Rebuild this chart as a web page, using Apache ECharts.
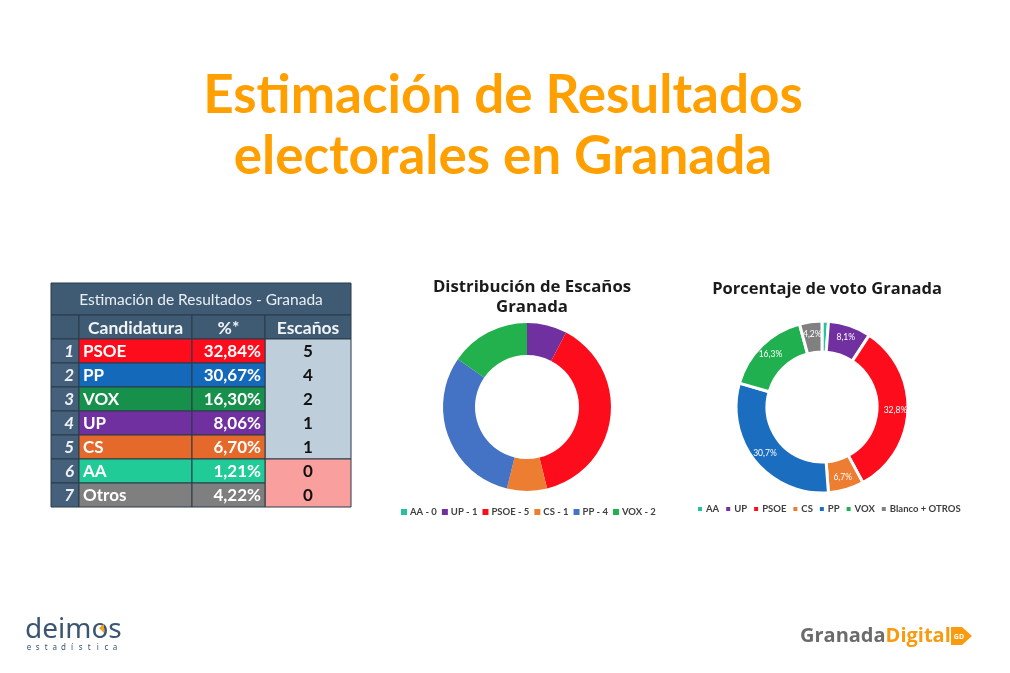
<!DOCTYPE html>
<html>
<head>
<meta charset="utf-8">
<script src="https://cdn.jsdelivr.net/npm/echarts@6/dist/echarts.min.js"></script>
<style>
html,body{margin:0;padding:0;background:#fff;}
#main{width:1010px;height:673px;}
</style>
</head>
<body>
<div id="main"></div>
<script>
// ---------- DATA ----------
const mainTitle = ['Estimación de Resultados', 'electorales en Granada'];
const tableTitle = 'Estimación de Resultados - Granada';
const tableHeaders = ['Candidatura', '%*', 'Escaños'];
const candidates = ['PSOE', 'PP', 'VOX', 'UP', 'CS', 'AA', 'Otros'];
const votePct = [32.84, 30.67, 16.30, 8.06, 6.70, 1.21, 4.22];
const seats = [5, 4, 2, 1, 1, 0, 0];

const seatTitle = 'Distribución de Escaños\nGranada';
const seatNames = ['AA', 'UP', 'PSOE', 'CS', 'PP', 'VOX'];
const seatValues = [0, 1, 5, 1, 4, 2];

const voteTitle = 'Porcentaje de voto Granada';
const voteNames = ['AA', 'UP', 'PSOE', 'CS', 'PP', 'VOX', 'Blanco + OTROS'];
const voteValues = [1.21, 8.06, 32.84, 6.70, 30.67, 16.30, 4.22];

const logoLeft = 'deimos';
const logoLeftSub = 'estadística';
const logoRight = ['Granada', 'Digital', 'GD'];

// ---------- STYLE ----------
const tableColors = {PSOE:'#fd0d1c', PP:'#1469bb', VOX:'#17904b', UP:'#7030a0', CS:'#e5692a', AA:'#20cb97', Otros:'#7f7f7f'};
const seatColors = {AA:'#22c49b', UP:'#7030a0', PSOE:'#fd0d1c', CS:'#ed7d31', PP:'#4472c4', VOX:'#22b14c'};
const voteColors = {AA:'#22c49b', UP:'#7030a0', PSOE:'#fd0d1c', CS:'#ed7d31', PP:'#1a6dbf', VOX:'#21b04f', 'Blanco + OTROS':'#808080'};

const fmt = (v, d) => v.toFixed(d).replace('.', ',') + '%';

const chart = echarts.init(document.getElementById('main'), null, {renderer: 'canvas'});

// ---------- TABLE (graphic) ----------
const colX = [51, 79, 192, 265, 351];
const titleTop = 283, headTop = 315, rowTop = 339, rowH = 24;
const dark = '#3f5b74', line = '#2b3a48';
const FONT = 'Lato';
const tableEls = [];
tableEls.push({type:'rect', shape:{x:colX[0], y:titleTop, width:colX[4]-colX[0], height:headTop-titleTop}, style:{fill:dark, stroke:line, lineWidth:1}});
tableEls.push({type:'text', x:(colX[0]+colX[4])/2, y:(titleTop+headTop)/2+1, style:{text:tableTitle, fill:'#e9eff4', font:'normal 15.5px '+FONT, align:'center', verticalAlign:'middle'}});
for (let c = 0; c < 4; c++) {
  tableEls.push({type:'rect', shape:{x:colX[c], y:headTop, width:colX[c+1]-colX[c], height:rowH}, style:{fill:dark, stroke:line, lineWidth:1}});
  if (c > 0) tableEls.push({type:'text', x:(colX[c]+colX[c+1])/2, y:headTop+rowH/2+1, style:{text:tableHeaders[c-1], fill:'#f2f5f8', font:'bold 17.5px '+FONT, align:'center', verticalAlign:'middle'}});
}
// seats blocks
const nWin = seats.filter(s => s > 0).length;
tableEls.push({type:'rect', shape:{x:colX[3], y:rowTop, width:colX[4]-colX[3], height:rowH*nWin}, style:{fill:'#bfcedb', stroke:line, lineWidth:1}});
tableEls.push({type:'rect', shape:{x:colX[3], y:rowTop+rowH*nWin, width:colX[4]-colX[3], height:rowH*(seats.length-nWin)}, style:{fill:'#f9a09e', stroke:line, lineWidth:1}});
candidates.forEach((name, i) => {
  const y = rowTop + i*rowH, col = tableColors[name];
  tableEls.push({type:'rect', shape:{x:colX[0], y, width:colX[1]-colX[0], height:rowH}, style:{fill:'#44607a', stroke:line, lineWidth:1}});
  tableEls.push({type:'rect', shape:{x:colX[1], y, width:colX[2]-colX[1], height:rowH}, style:{fill:col, stroke:line, lineWidth:1}});
  tableEls.push({type:'rect', shape:{x:colX[2], y, width:colX[3]-colX[2], height:rowH}, style:{fill:col, stroke:line, lineWidth:1}});
  tableEls.push({type:'text', x:colX[1]-5, y:y+rowH/2+1, style:{text:String(i+1), fill:'#eef2f6', font:'italic bold 17px '+FONT, align:'right', verticalAlign:'middle'}});
  tableEls.push({type:'text', x:colX[1]+4, y:y+rowH/2+1, style:{text:name, fill:'#ffffff', font:'bold 17px '+FONT, align:'left', verticalAlign:'middle'}});
  tableEls.push({type:'text', x:colX[3]-4, y:y+rowH/2+1, style:{text:fmt(votePct[i], 2), fill:'#ffffff', font:'bold 17px '+FONT, align:'right', verticalAlign:'middle'}});
  tableEls.push({type:'text', x:(colX[3]+colX[4])/2, y:y+rowH/2+1, style:{text:String(seats[i]), fill:'#111111', font:'bold 17px '+FONT, align:'center', verticalAlign:'middle'}});
});

// ---------- LOGOS ----------
const logoEls = [
  {type:'text', x:25, y:630, style:{text:logoLeft, fill:'#3a5670', font:'400 28px "Noto Sans"', align:'left', verticalAlign:'middle'}},
  {type:'polygon', shape:{points:[[99,628],[104,624],[104,633]]}, style:{fill:'#f5a01a'}},
  {type:'text', x:800, y:636, style:{text:'{g|' + logoRight[0] + '}{d|' + logoRight[1] + '}', align:'left', verticalAlign:'middle',
    rich:{g:{fill:'#6b6b6b', font:'700 20px "Open Sans"'}, d:{fill:'#f89b10', font:'700 20px "Open Sans"'}}}},
  {type:'polygon', shape:{points:[[951,627],[962,627],[972,636],[962,645],[951,645]]}, style:{fill:'#f89b10'}},
  {type:'text', x:959, y:636.5, style:{text:logoRight[2], fill:'#ffffff', font:'700 7px "Open Sans"', align:'center', verticalAlign:'middle'}}
];
Array.from(logoLeftSub).forEach((ch, i) => {
  logoEls.push({type:'text', x:29 + i*8.6, y:648, style:{text:ch, fill:'#3a5670', font:'400 8px "Noto Sans"', align:'center', verticalAlign:'middle'}});
});

// ---------- TITLE ----------
const titleEls = [
  {type:'text', x:503, y:96, style:{text:mainTitle[0], fill:'#ffa000', font:'700 53px Lato', align:'center', verticalAlign:'middle'}},
  {type:'text', x:503, y:157, style:{text:mainTitle[1], fill:'#ffa000', font:'700 53px Lato', align:'center', verticalAlign:'middle'}}
];

const legendText = {fontFamily: 'Lato', fontSize: 9.5, fontWeight: 'bold', color: '#404040', padding: [0, 0, 0, -2]};
const option = {
  backgroundColor: '#ffffff',
  animation: false,
  title: [
    {text: seatTitle, left: 527, top: 272, textAlign: 'center',
     textStyle: {fontFamily: 'Open Sans', fontWeight: 'bold', fontSize: 16.8, color: '#1b1b1b', lineHeight: 20}},
    {text: voteTitle, left: 822, top: 274, textAlign: 'center',
     textStyle: {fontFamily: 'Open Sans', fontWeight: 'bold', fontSize: 16.5, color: '#1b1b1b', lineHeight: 20}}
  ],
  legend: [
    {data: seatNames.map((n, i) => n + ' - ' + seatValues[i]), left: 396, top: 502, icon: 'rect',
     itemWidth: 6, itemHeight: 6, itemGap: 5, selectedMode: false, textStyle: legendText},
    {data: voteNames, left: 691, top: 499, icon: 'rect',
     itemWidth: 6, itemHeight: 6, itemGap: 5, selectedMode: false, textStyle: legendText}
  ],
  series: [
    {type: 'pie', center: [527, 407], radius: [52, 84], startAngle: 90, clockwise: true,
     label: {show: false}, labelLine: {show: false}, emphasis: {disabled: true}, silent: true,
     itemStyle: {borderWidth: 0},
     data: seatNames.map((n, i) => ({name: n + ' - ' + seatValues[i], value: seatValues[i], itemStyle: {color: seatColors[n]}}))},
    {type: 'pie', center: [822, 407], radius: [55, 86], startAngle: 90, clockwise: true,
     emphasis: {disabled: true}, silent: true,
     itemStyle: {borderColor: '#ffffff', borderWidth: 3},
     label: {show: true, position: 'inside', color: '#ffffff', fontFamily: 'Lato', fontSize: 8.5,
             formatter: p => fmt(p.value, 1)},
     labelLine: {show: false},
     data: voteNames.map((n, i) => ({name: n, value: voteValues[i], itemStyle: {color: voteColors[n]}}))}
  ],
  graphic: [
    {type: 'group', children: titleEls},
    {type: 'group', children: tableEls},
    {type: 'group', children: logoEls}
  ]
};
chart.setOption(option);
</script>
</body>
</html>
